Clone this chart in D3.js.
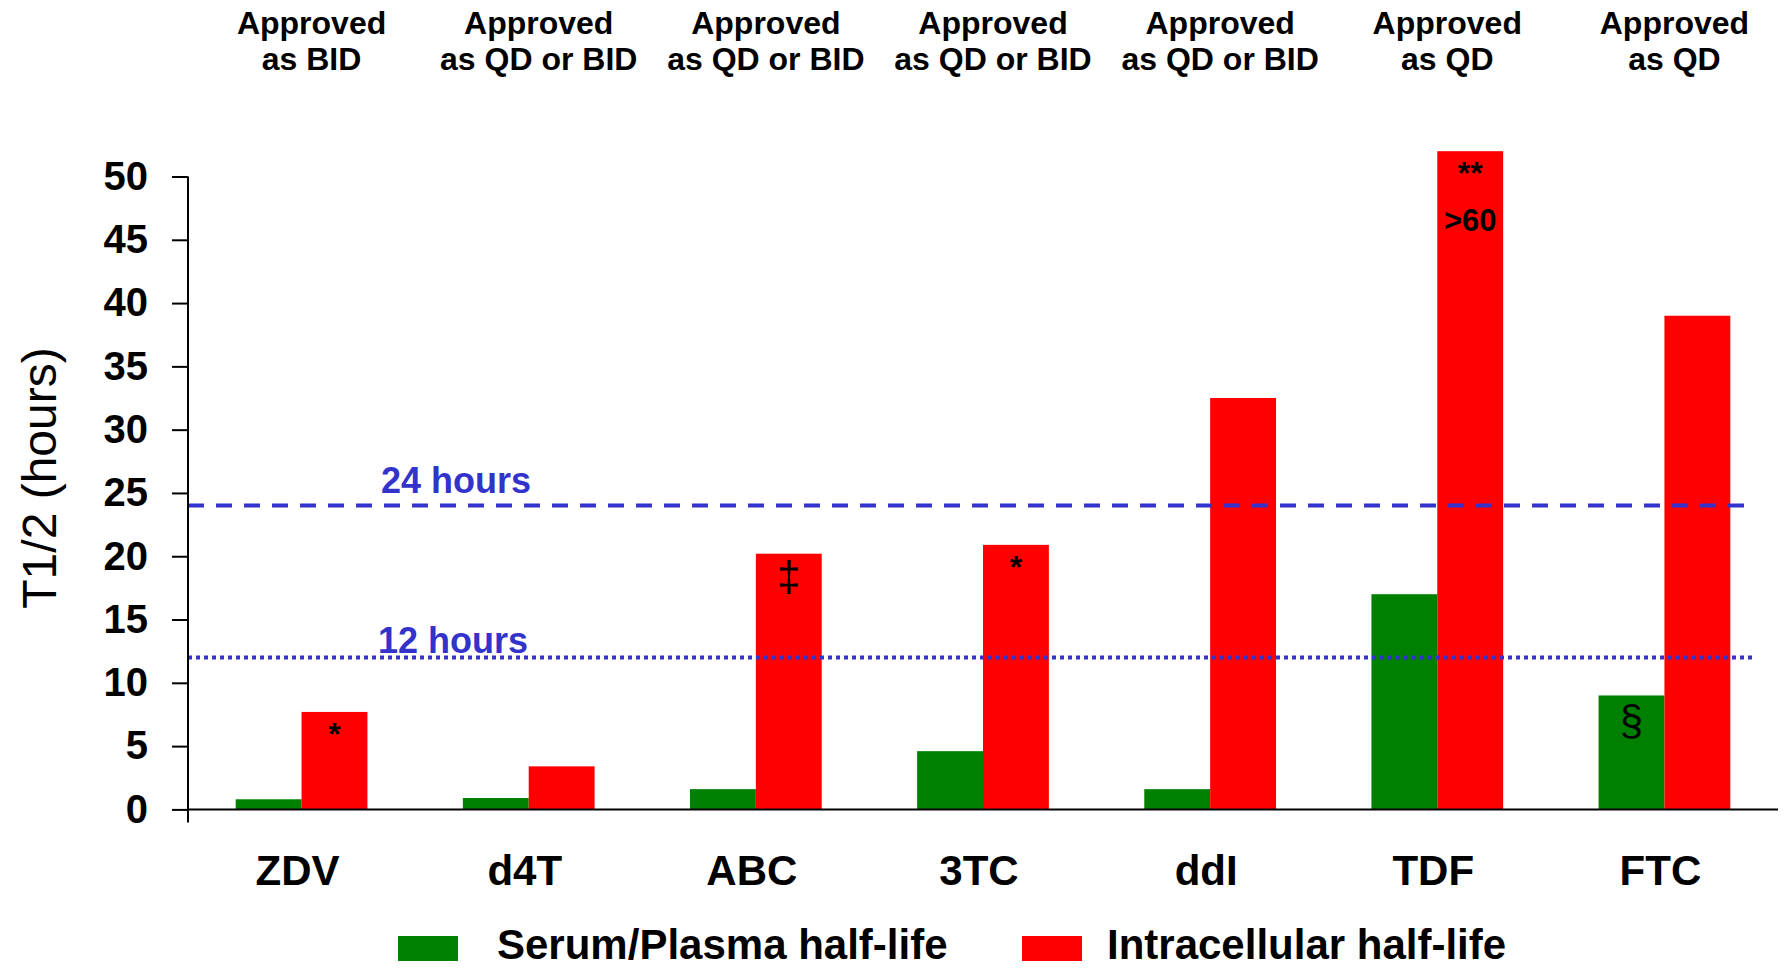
<!DOCTYPE html>
<html>
<head>
<meta charset="utf-8">
<script src="https://cdn.jsdelivr.net/npm/d3@7/dist/d3.min.js"></script>
<style>
  body { margin: 0; background: #fff; }
  svg { display: block; font-family: "Liberation Sans", Arial, Helvetica, sans-serif; }
</style>
</head>
<body>
<div id="chart"></div>
<script>
const categories = ["ZDV", "d4T", "ABC", "3TC", "ddI", "TDF", "FTC"];
const seriesNames = ["Serum/Plasma half-life", "Intracellular half-life"];
const serumHalfLife = [0.8, 0.9, 1.6, 4.6, 1.6, 17, 9];
const intracellularHalfLife = [7.7, 3.4, 20.2, 20.9, 32.5, 52, 39];
const dosingTop = ["Approved", "Approved", "Approved", "Approved", "Approved", "Approved", "Approved"];
const dosingBottom = ["as BID", "as QD or BID", "as QD or BID", "as QD or BID", "as QD or BID", "as QD", "as QD"];
const yTicks = [0, 5, 10, 15, 20, 25, 30, 35, 40, 45, 50];
const refHours = [24, 12];
const refLabels = ["24 hours", "12 hours"];
// footnote marks: [category, series index, mark]
const footnotes = [["ZDV", 1, "*"], ["ABC", 1, "\u2021"], ["3TC", 1, "*"], ["TDF", 1, "**"], ["FTC", 0, "\u00a7"]];
const tdfNote = ">60";

const W = 1785, H = 969;
const colors = ["#008000", "#ff0000"];
const blue = "#3333cc";

const svg = d3.select("#chart").append("svg")
    .attr("width", W)
    .attr("height", H);

const x = d3.scaleBand()
    .domain(categories)
    .range([188, 1778])
    .paddingInner(0.42)
    .paddingOuter(0.21);

const xs = d3.scaleBand()
    .domain([0, 1])
    .range([0, x.bandwidth()]);

const y = d3.scaleLinear()
    .domain([0, 50])
    .range([809.4, 176.5]);

const rows = categories.map((c, i) => ({cat: c, values: [serumHalfLife[i], intracellularHalfLife[i]]}));

// bars
const groups = svg.selectAll(".grp")
    .data(rows)
    .enter().append("g")
    .attr("class", "grp")
    .attr("transform", d => `translate(${x(d.cat)},0)`);

groups.selectAll("rect")
    .data(d => d.values)
    .enter().append("rect")
    .attr("x", (d, i) => xs(i))
    .attr("width", xs.bandwidth())
    .attr("y", d => y(d))
    .attr("height", d => y(0) - y(d))
    .attr("fill", (d, i) => colors[i]);

// reference lines
const refG = svg.append("g");
refG.selectAll("line")
    .data(refHours)
    .enter().append("line")
    .attr("x1", x.range()[0])
    .attr("x2", (d, i) => i === 0 ? 1747 : 1753)
    .attr("y1", d => y(d))
    .attr("y2", d => y(d))
    .attr("stroke", blue)
    .attr("stroke-width", 4)
    .attr("stroke-dasharray", (d, i) => i === 0 ? "16,12" : "4,4");

refG.selectAll("text")
    .data(refHours)
    .enter().append("text")
    .attr("x", (d, i) => i === 0 ? 381 : 378)
    .attr("y", (d, i) => y(d) - (i === 0 ? 13 : 5))
    .attr("fill", blue)
    .attr("font-weight", "bold")
    .attr("font-size", 36)
    .text((d, i) => refLabels[i]);

// y axis
const yAxis = svg.append("g")
    .attr("transform", `translate(${x.range()[0]},0)`)
    .call(d3.axisLeft(y).tickValues(yTicks).tickSize(16).tickSizeOuter(0).tickPadding(24));
yAxis.select(".domain").remove();
yAxis.selectAll(".tick line").attr("stroke", "#000").attr("stroke-width", 2);
yAxis.selectAll(".tick text")
    .attr("font-family", "'Liberation Sans', Arial, sans-serif")
    .attr("font-size", 40)
    .attr("font-weight", "bold")
    .attr("fill", "#000");
yAxis.append("line")
    .attr("x1", 0).attr("x2", 0)
    .attr("y1", y(50)).attr("y2", y(0) + 13)
    .attr("stroke", "#000").attr("stroke-width", 2);

// x axis baseline
svg.append("line")
    .attr("x1", x.range()[0]).attr("x2", x.range()[1])
    .attr("y1", y(0)).attr("y2", y(0))
    .attr("stroke", "#000").attr("stroke-width", 2);

// category labels
svg.append("g").selectAll("text")
    .data(categories)
    .enter().append("text")
    .attr("x", d => x(d) + x.bandwidth() / 2 - 4)
    .attr("y", 885)
    .attr("text-anchor", "middle")
    .attr("font-weight", "bold")
    .attr("font-size", 42)
    .text(d => d);

// dosing labels on top
const dosing = svg.append("g").selectAll("text")
    .data(categories)
    .enter().append("text")
    .attr("text-anchor", "middle")
    .attr("font-weight", "bold")
    .attr("font-size", 32);
dosing.append("tspan")
    .attr("x", d => x(d) + x.bandwidth() / 2 + 10)
    .attr("y", 34)
    .text((d, i) => dosingTop[i]);
dosing.append("tspan")
    .attr("x", d => x(d) + x.bandwidth() / 2 + 10)
    .attr("y", 70)
    .text((d, i) => dosingBottom[i]);

// y axis title
svg.append("text")
    .attr("transform", "translate(56,478) rotate(-90)")
    .attr("text-anchor", "middle")
    .attr("font-size", 48)
    .text("T1/2 (hours)");

// footnote marks
svg.append("g").selectAll("text")
    .data(footnotes)
    .enter().append("text")
    .attr("x", d => x(d[0]) + xs(d[1]) + xs.bandwidth() / 2)
    .attr("y", d => {
        const v = d[1] === 0 ? serumHalfLife[categories.indexOf(d[0])] : intracellularHalfLife[categories.indexOf(d[0])];
        return y(v) + (d[2] === "\u2021" ? 37 : d[2] === "\u00a7" ? 40 : 33);
    })
    .attr("text-anchor", "middle")
    .attr("font-weight", d => (d[2] === "\u2021" || d[2] === "\u00a7") ? "normal" : "bold")
    .attr("font-size", d => (d[2] === "\u2021" || d[2] === "\u00a7") ? 42 : 32)
    .text(d => d[2]);

svg.append("text")
    .attr("x", x("TDF") + xs(1) + xs.bandwidth() / 2)
    .attr("y", y(intracellularHalfLife[5]) + 80)
    .attr("text-anchor", "middle")
    .attr("font-weight", "bold")
    .attr("font-size", 31)
    .text(tdfNote);

// legend
const legendX = [398, 1022];
const legendTextX = [99, 85];
const legend = svg.append("g").selectAll("g")
    .data(seriesNames)
    .enter().append("g")
    .attr("transform", (d, i) => `translate(${legendX[i]},936)`);
legend.append("rect")
    .attr("width", 60)
    .attr("height", 25)
    .attr("fill", (d, i) => colors[i]);
legend.append("text")
    .attr("x", (d, i) => legendTextX[i])
    .attr("y", 23)
    .attr("font-weight", "bold")
    .attr("font-size", 42)
    .text(d => d);
</script>
</body>
</html>
